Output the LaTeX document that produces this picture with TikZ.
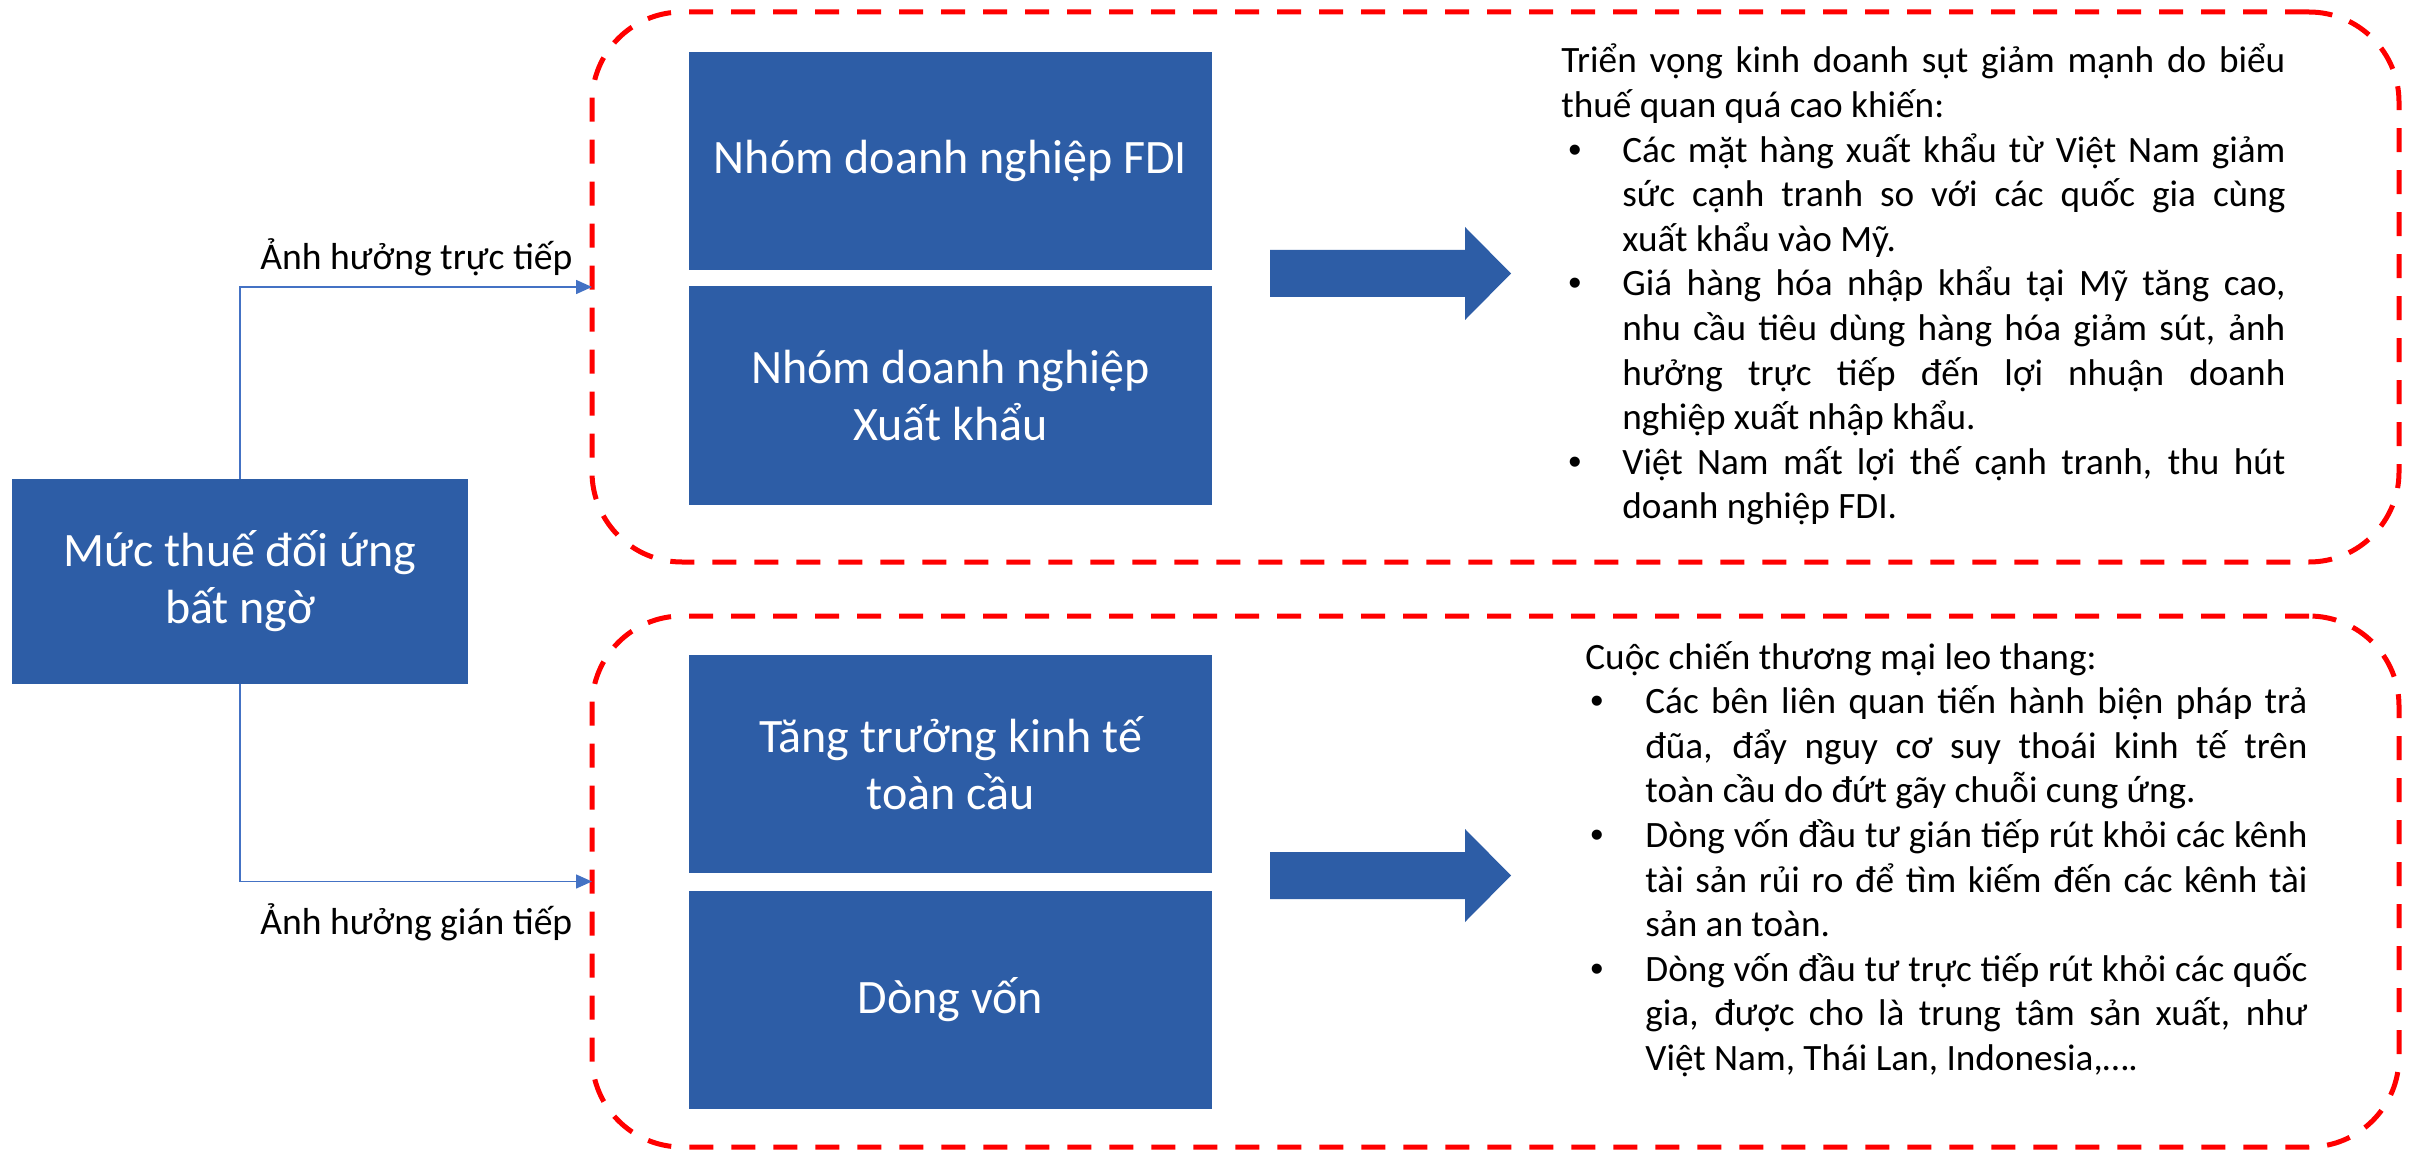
\documentclass[tikz,border=0pt]{standalone}
\usepackage{fontspec}
\setmainfont{Carlito}
\newfontfamily\BulFont{Liberation Sans}
\usetikzlibrary{arrows.meta}
\definecolor{boxblue}{RGB}{45,93,166}
\definecolor{lineblue}{RGB}{68,114,196}
\definecolor{dashred}{RGB}{255,0,0}
\newlength{\BulX}\newlength{\BulW}\newlength{\IndW}\newlength{\BtW}
\newcommand{\JL}[1]{\noindent\makebox[\linewidth][s]{#1}\par}
\newcommand{\PL}[1]{\noindent #1\par}
\newcommand{\BJ}[1]{\noindent\hspace*{\BulX}\makebox[\BulW][l]{{\BulFont •}}\makebox[\BtW][s]{#1}\par}
\newcommand{\CJ}[1]{\noindent\hspace*{\IndW}\makebox[\BtW][s]{#1}\par}
\newcommand{\CL}[1]{\noindent\hspace*{\IndW}#1\par}
\begin{document}
\begin{tikzpicture}[x=0.5pt,y=-0.5pt,
  bluebox/.style={fill=boxblue, text=white, inner sep=0pt, align=center,
    font=\fontsize{24pt}{28.5pt}\selectfont, minimum width=261.5pt, minimum height=109pt},
  grp/.style={draw=dashred, line width=2.5pt, dash pattern=on 12pt off 9pt,
    rounded corners=45pt, minimum width=903.5pt, outer sep=0pt, inner sep=0pt},
  conn/.style={draw=lineblue, line width=0.75pt, -{Triangle[length=8pt,width=7pt]}},
  lbl/.style={font=\fontsize{18.8pt}{22.5pt}\selectfont, inner sep=0pt, anchor=base west},
  body/.style={inner sep=0pt, anchor=base west},
  barrow/.style={fill=boxblue}]
\useasboundingbox (0,0) rectangle (2415,1150);
\fill[white] (0,0) rectangle (2415,1150);

% dashed groups
\node[grp, minimum height=275pt] (g1) at (1495.5,287) {};
\node[grp, minimum height=265.5pt] (g2) at (1495.5,881.5) {};

% boxes
\node[bluebox, minimum width=228pt, minimum height=102.5pt] (main) at (240,581.5) {Mức thuế đối ứng\\bất ngờ};
\node[bluebox] (fdi) at (950.5,161) {Nhóm doanh nghiệp FDI};
\node[bluebox] (xk) at (950.5,395.5) {Nhóm doanh nghiệp\\Xuất khẩu};
\node[bluebox] (tt) at (950.5,763.5) {Tăng trưởng kinh tế\\toàn cầu};
\node[bluebox] (dv) at (950.5,999.5) {Dòng vốn};

% connectors
\draw[conn] (main.north) |- (g1.west);
\draw[conn] (main.south) |- (g2.west);
\node[lbl] (l1) at (260,270) {Ảnh hưởng trực tiếp};
\node[lbl] (l2) at (260,934) {Ảnh hưởng gián tiếp};

% block arrows
\fill[barrow] (1270,250) -- (1465,250) -- (1465,227) -- (1511,273.5) -- (1465,320) -- (1465,297) -- (1270,297) -- cycle;
\fill[barrow] (1270,852) -- (1465,852) -- (1465,829) -- (1511,875.5) -- (1465,922) -- (1465,899) -- (1270,899) -- cycle;

% text blocks
\node[body] (t1) at (1561,73) {\begin{minipage}[t]{362pt}\fontsize{18.6pt}{22.3pt}\selectfont\lineskiplimit=-100pt
\setlength{\BulX}{3.5pt}\setlength{\BulW}{27pt}\setlength{\IndW}{30.5pt}\setlength{\BtW}{331.5pt}%
\JL{Triển vọng kinh doanh sụt giảm mạnh do biểu}
\PL{thuế quan quá cao khiến:}
\BJ{Các mặt hàng xuất khẩu từ Việt Nam giảm}
\CJ{sức cạnh tranh so với các quốc gia cùng}
\CL{xuất khẩu vào Mỹ.}
\BJ{Giá hàng hóa nhập khẩu tại Mỹ tăng cao,}
\CJ{nhu cầu tiêu dùng hàng hóa giảm sút, ảnh}
\CJ{hưởng trực tiếp đến lợi nhuận doanh}
\CL{nghiệp xuất nhập khẩu.}
\BJ{Việt Nam mất lợi thế cạnh tranh, thu hút}
\CL{doanh nghiệp FDI.}
\end{minipage}};

\node[body] (t2) at (1585,669) {\begin{minipage}[t]{361pt}\fontsize{18.6pt}{22.3pt}\selectfont\lineskiplimit=-100pt
\setlength{\BulX}{2.5pt}\setlength{\BulW}{27.5pt}\setlength{\IndW}{30pt}\setlength{\BtW}{331pt}%
\PL{Cuộc chiến thương mại leo thang:}
\BJ{Các bên liên quan tiến hành biện pháp trả}
\CJ{đũa, đẩy nguy cơ suy thoái kinh tế trên}
\CL{toàn cầu do đứt gãy chuỗi cung ứng.}
\BJ{Dòng vốn đầu tư gián tiếp rút khỏi các kênh}
\CJ{tài sản rủi ro để tìm kiếm đến các kênh tài}
\CL{sản an toàn.}
\BJ{Dòng vốn đầu tư trực tiếp rút khỏi các quốc}
\CJ{gia, được cho là trung tâm sản xuất, như}
\CL{Việt Nam, Thái Lan, Indonesia,….}
\end{minipage}};
\end{tikzpicture}
\end{document}
